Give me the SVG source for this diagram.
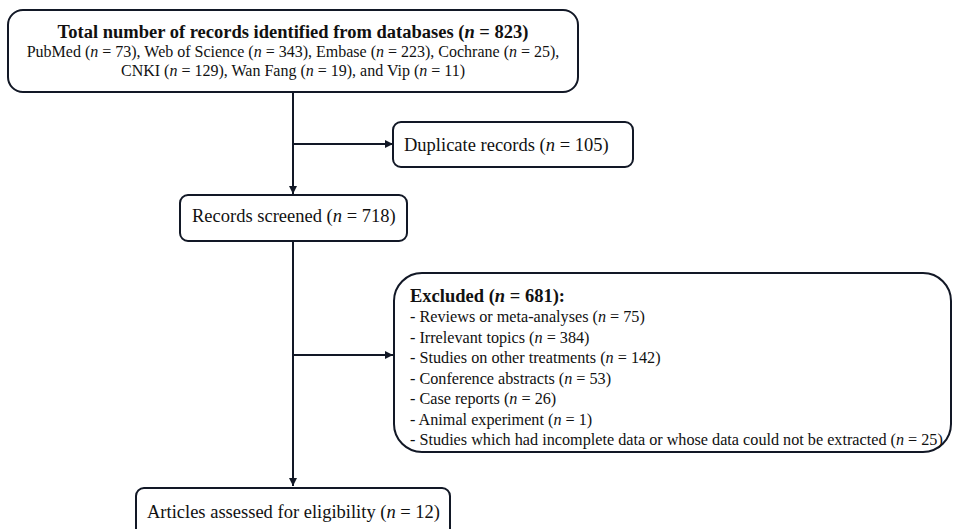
<svg xmlns="http://www.w3.org/2000/svg" width="953" height="529" viewBox="0 0 953 529">
<style>
.box{fill:#fff;stroke:#121826;stroke-width:2}
.t{font-family:"Liberation Serif","Times New Roman",serif;fill:#111}
.n18{font-size:18.5px}
.n16{font-size:16px}
.n16b{font-size:16.2px}
.b{font-weight:bold}
.i{font-style:italic}
.ln{stroke:#121826;stroke-width:2;fill:none}
</style>
<defs>
<marker id="ah" viewBox="0 0 10 10" refX="10" refY="5" markerWidth="4" markerHeight="4" orient="auto" markerUnits="strokeWidth">
<path d="M0,0 L10,5 L0,10 z" fill="#121826"/>
</marker>
</defs>
<rect width="953" height="529" fill="#fff"/>
<g id="connectors">
<line class="ln" x1="293" y1="92" x2="293" y2="194" marker-end="url(#ah)"/>
<line class="ln" x1="293" y1="144" x2="393" y2="144" marker-end="url(#ah)"/>
<line class="ln" x1="293" y1="241" x2="293" y2="486" marker-end="url(#ah)"/>
<line class="ln" x1="293" y1="355" x2="393" y2="355" marker-end="url(#ah)"/>
</g>
<g id="identified">
<rect class="box" x="8" y="10" width="570" height="82" rx="15"/>
<text class="t n18 b" x="293" y="38" text-anchor="middle">Total number of records identified from databases (<tspan class="i">n</tspan> = 823)</text>
<text class="t n16" x="293" y="57" text-anchor="middle">PubMed (<tspan class="i">n</tspan> = 73), Web of Science (<tspan class="i">n</tspan> = 343), Embase (<tspan class="i">n</tspan> = 223), Cochrane (<tspan class="i">n</tspan> = 25),</text>
<text class="t n16" x="293" y="76" text-anchor="middle">CNKI (<tspan class="i">n</tspan> = 129), Wan Fang (<tspan class="i">n</tspan> = 19), and Vip (<tspan class="i">n</tspan> = 11)</text>
</g>
<g id="duplicates">
<rect class="box" x="393" y="122" width="240" height="45" rx="8"/>
<text class="t n18" x="404" y="151">Duplicate records (<tspan class="i">n</tspan> = 105)</text>
</g>
<g id="screened">
<rect class="box" x="180" y="195" width="227" height="46" rx="8"/>
<text class="t n18" x="192" y="222">Records screened (<tspan class="i">n</tspan> = 718)</text>
</g>
<g id="excluded">
<rect class="box" x="394" y="273" width="557" height="179" rx="28"/>
<text class="t n18 b" x="410" y="302">Excluded (<tspan class="i">n</tspan> = 681):</text>
<text class="t n16b" x="410" y="322">- Reviews or meta-analyses (<tspan class="i">n</tspan> = 75)</text>
<text class="t n16b" x="410" y="342.5">- Irrelevant topics (<tspan class="i">n</tspan> = 384)</text>
<text class="t n16b" x="410" y="363">- Studies on other treatments (<tspan class="i">n</tspan> = 142)</text>
<text class="t n16b" x="410" y="383.5">- Conference abstracts (<tspan class="i">n</tspan> = 53)</text>
<text class="t n16b" x="410" y="404">- Case reports (<tspan class="i">n</tspan> = 26)</text>
<text class="t n16b" x="410" y="424.5">- Animal experiment (<tspan class="i">n</tspan> = 1)</text>
<text class="t n16b" x="410" y="445">- Studies which had incomplete data or whose data could not be extracted (<tspan class="i">n</tspan> = 25)</text>
</g>
<g id="eligibility">
<rect class="box" x="136" y="488" width="314" height="60" rx="8"/>
<text class="t n18" x="147" y="518">Articles assessed for eligibility (<tspan class="i">n</tspan> = 12)</text>
</g>
</svg>
